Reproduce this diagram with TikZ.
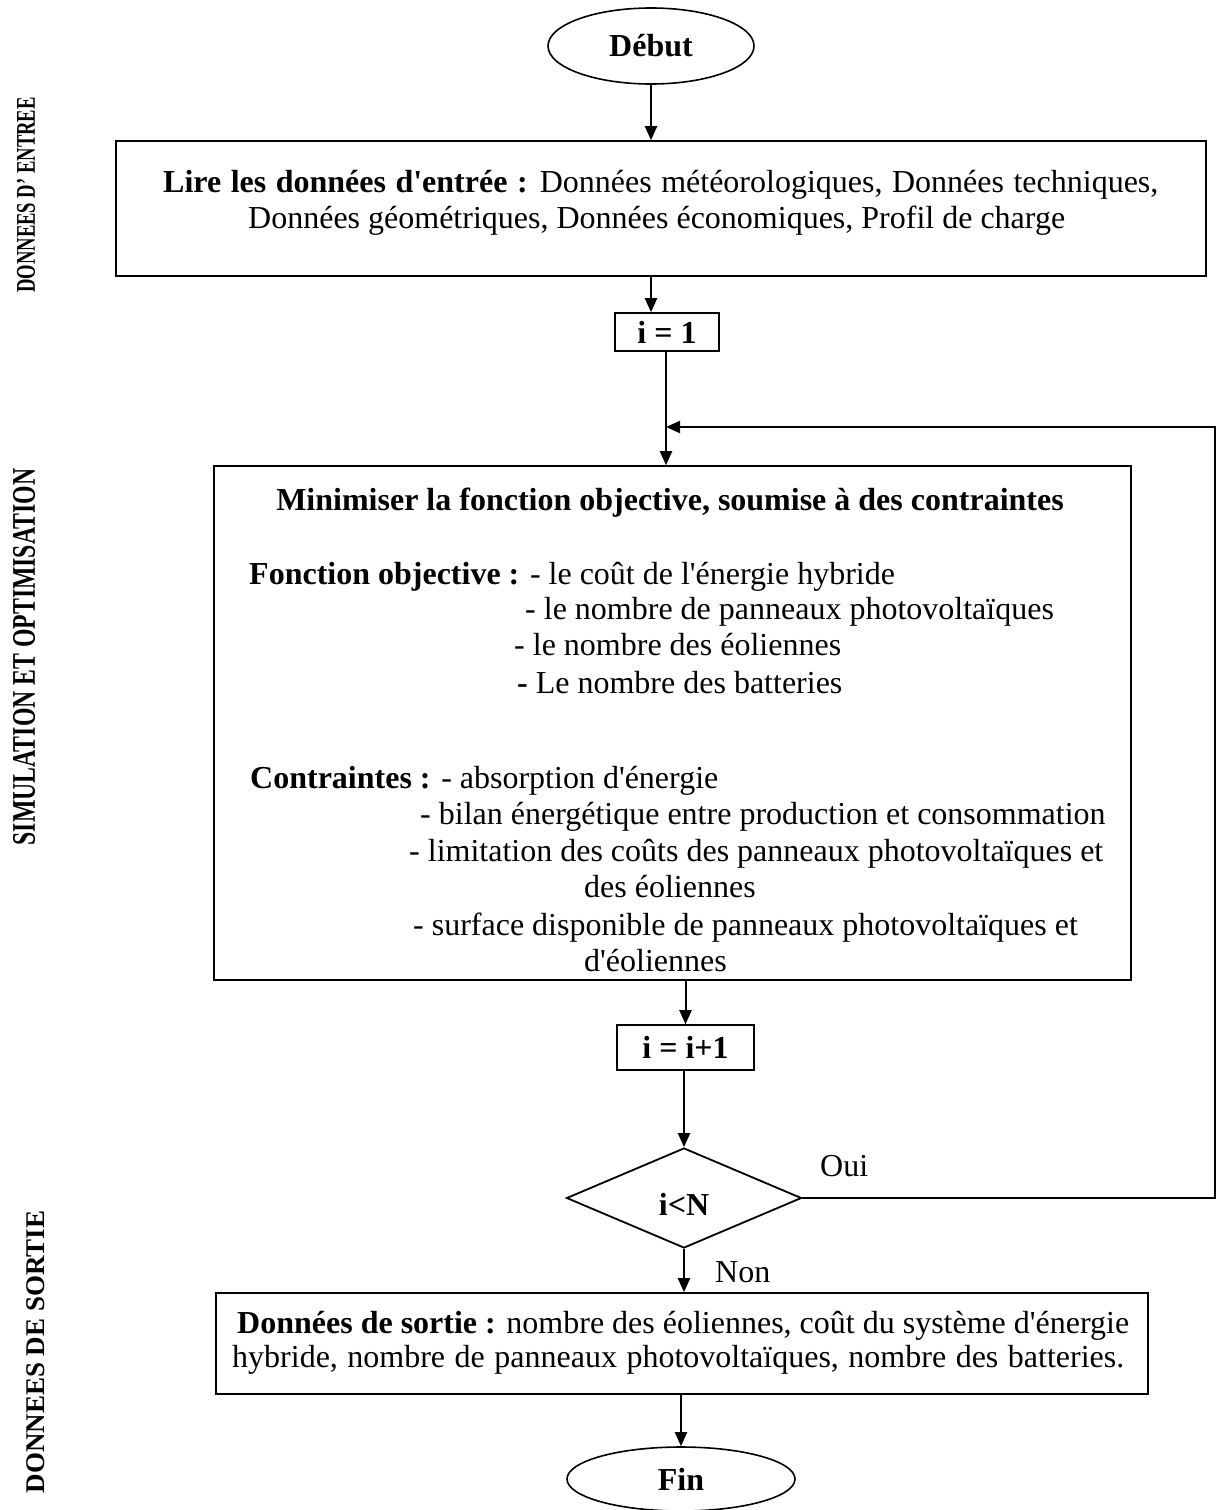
\documentclass[tikz,border=0pt]{standalone}
\usepackage{fontspec}
\setmainfont{Liberation Serif}
\usetikzlibrary{shapes.geometric,arrows.meta}
\newcommand\bodyfont{\fontsize{32}{36}\selectfont}
\newcommand\sidefont{\bfseries\fontsize{27}{30}\selectfont}
\newcommand\aq{\textquotesingle}
\begin{document}
\begin{tikzpicture}[x=1pt,y=-1pt,
  box/.style={draw, line width=1.6pt, inner sep=0pt},
  oval/.style={draw, ellipse, line width=1.6pt, inner sep=0pt, font=\bodyfont\bfseries},
  decision/.style={draw, diamond, line width=1.8pt, inner sep=0pt},
  txt/.style={inner sep=0pt, anchor=base west, font=\bodyfont},
  ctxt/.style={inner sep=0pt, anchor=base, font=\bodyfont},
  side/.style={inner sep=0pt, rotate=90, font=\sidefont},
  arr/.style={line width=2pt, -{Triangle[length=14pt,width=12pt]}}]
\useasboundingbox (0,0) rectangle (1217,1510);

% side captions
\node[side, xscale=0.69] (capin)  at (26,195)  {DONNEES D’ ENTREE};
\node[side, font=\bfseries\fontsize{33}{36}\selectfont, xscale=0.72] (capsim) at (24,657) {SIMULATION ET OPTIMISATION};
\node[side] (capout) at (36,1352) {DONNEES DE SORTIE};

% start
\node[oval, minimum width=206pt, minimum height=76pt] (start) at (651,46) {Début};

% input data
\node[box, minimum width=1090pt, minimum height=135pt] (read) at (661,208.5) {};
\node[txt] (read1) at (163,192) {\spaceskip=9.5pt\relax\textbf{Lire les données d\aq entrée :} Données météorologiques, Données techniques,};
\node[txt] (read2) at (248,228) {Données géométriques, Données économiques, Profil de charge};

% counter init
\node[box, minimum width=104pt, minimum height=38pt, font=\bodyfont\bfseries] (init) at (667,332) {i = 1};

% optimisation block
\node[box, minimum width=917pt, minimum height=514pt] (optim) at (672.5,723) {};
\node[ctxt, font=\bodyfont\bfseries] (otitle) at (670,510) {Minimiser la fonction objective, soumise à des contraintes};
\node[txt] (f1) at (249,584) {\textbf{Fonction objective :} - le coût de l\aq énergie hybride};
\node[txt] (f2) at (525,619) {- le nombre de panneaux photovoltaïques};
\node[txt] (f3) at (514,655) {- le nombre des éoliennes};
\node[txt] (f4) at (517,693) {\textbf{-} Le nombre des batteries};
\node[txt] (c1) at (250,788) {\textbf{Contraintes :} - absorption d\aq énergie};
\node[txt] (c2) at (420,824) {- bilan énergétique entre production et consommation};
\node[txt] (c3) at (409,861) {- limitation des coûts des panneaux photovoltaïques et};
\node[txt] (c4) at (584,897) {des éoliennes};
\node[txt] (c5) at (413,935) {- surface disponible de panneaux photovoltaïques et};
\node[txt] (c6) at (584,971) {d\aq éoliennes};

% counter increment
\node[box, minimum width=137pt, minimum height=45pt, font=\bodyfont\bfseries] (incr) at (685.5,1047.5) {i = i+1};

% test
\node[decision, minimum width=235pt, minimum height=100pt] (test) at (684,1198) {};
\node[font=\bodyfont\bfseries, inner sep=0pt] (testlbl) at (684,1204) {i<N};
\node[txt] (oui) at (820,1176) {Oui};
\node[txt] (non) at (715,1282) {Non};

% output data
\node[box, minimum width=932pt, minimum height=101pt] (out) at (682,1343.5) {};
\node[txt] (out1) at (237,1333) {\textbf{Données de sortie :} nombre des éoliennes, coût du système d\aq énergie};
\node[txt] (out2) at (232,1367) {\spaceskip=9.5pt\relax hybride, nombre de panneaux photovoltaïques, nombre des batteries.};

% end
\node[oval, minimum width=228pt, minimum height=64pt] (end) at (681,1479) {Fin};

% loop helpers
\coordinate (loopx) at (1215,0);
\coordinate (join) at (666,427);

% connectors
\draw[arr] (start.south) -- (start.south |- read.north);
\draw[arr] (read.south -| start.south) -- (init.north -| start.south);
\draw[arr] (init.south -| join) -- (optim.north -| join);
\draw[arr] (test.east) -- (test.east -| loopx) |- (join);
\draw[arr] (optim.south -| incr.north) -- (incr.north);
\draw[arr] (incr.south -| test.north) -- (test.north);
\draw[arr] (test.south) -- (out.north -| test.south);
\draw[arr] (out.south -| end.north) -- (end.north);
\end{tikzpicture}
\end{document}
